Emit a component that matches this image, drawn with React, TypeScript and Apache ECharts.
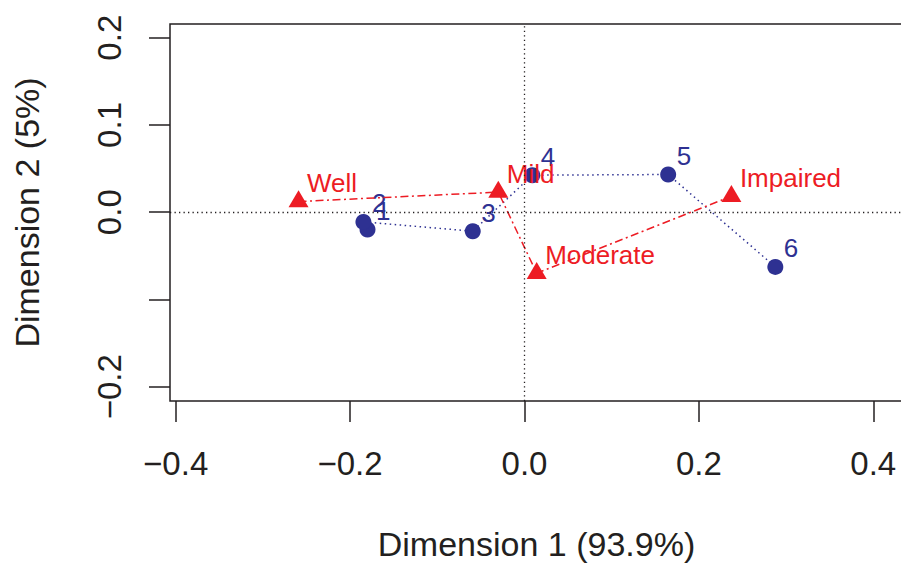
import React, { useEffect, useRef } from "react";
import * as echarts from "echarts";

const rowNames = ["1", "2", "3", "4", "5", "6"];
const rowX = [-0.18, -0.1847, -0.0593, 0.009, 0.1648, 0.2877];
const rowY = [-0.0198, -0.0111, -0.0218, 0.0424, 0.0432, -0.0627];

const colNames = ["Well", "Mild", "Moderate", "Impaired"];
const colX = [-0.2591, -0.03, 0.014, 0.2373];
const colY = [0.0122, 0.023, -0.0699, 0.0183];

const xTicks = [-0.4, -0.2, 0, 0.2, 0.4];
const yTicks = [-0.2, -0.1, 0, 0.1, 0.2];
const yTickLabels = [-0.2, 0, 0.1, 0.2];

const xTitle = "Dimension 1 (93.9%)";
const yTitle = "Dimension 2 (5%)";

const BLUE = "#2E3192";
const RED = "#ED1C24";
const INK = "#231F20";
const FONT = "'Liberation Sans', Arial, Helvetica, sans-serif";

const fmt = (v: number) => {
  const s = Math.abs(v).toFixed(1);
  return v < -1e-9 ? "\u2212" + s : s;
};

export default function App() {
  const ref = useRef<HTMLDivElement>(null);
  useEffect(() => {
    if (!ref.current) return;
    const chart = echarts.init(ref.current, null, { renderer: "svg" });
    const rows = rowNames.map((n, i) => ({ name: n, value: [rowX[i], rowY[i]] }));
    const cols = colNames.map((n, i) => ({ name: n, value: [colX[i], colY[i]] }));
    chart.setOption({
      animation: false,
      backgroundColor: "#ffffff",
      textStyle: { fontFamily: FONT },
      grid: {
        left: 170,
        top: 24,
        right: -2,
        bottom: 162,
        show: true,
        borderColor: INK,
        borderWidth: 1.5,
        backgroundColor: "transparent",
        containLabel: false,
        outerBoundsMode: "none",
      },
      xAxis: {
        type: "value",
        min: -0.4065,
        max: 0.4341,
        splitLine: { show: false },
        axisLine: { show: false, onZero: false },
        axisTick: {
          show: true,
          inside: false,
          length: 21,
          customValues: xTicks,
          lineStyle: { color: INK, width: 1.5 },
        },
        axisLabel: {
          show: true,
          customValues: xTicks,
          formatter: (v: number) => fmt(v),
          margin: 46,
          fontSize: 33,
          color: INK,
          fontFamily: FONT,
        },
        name: xTitle,
        nameLocation: "middle",
        nameGap: 126,
        nameTextStyle: { fontSize: 34, color: INK, fontFamily: FONT },
      },
      yAxis: {
        type: "value",
        min: -0.2164,
        max: 0.2157,
        splitLine: { show: false },
        axisLine: { show: false, onZero: false },
        axisTick: {
          show: true,
          inside: false,
          length: 21,
          customValues: yTicks,
          lineStyle: { color: INK, width: 1.5 },
        },
        axisLabel: {
          show: true,
          customValues: yTickLabels,
          formatter: (v: number) => fmt(v),
          rotate: 90,
          margin: 44,
          fontSize: 33,
          color: INK,
          fontFamily: FONT,
        },
        name: yTitle,
        nameLocation: "middle",
        nameGap: 126,
        nameTextStyle: { fontSize: 34, color: INK, fontFamily: FONT },
      },
      series: [
        {
          type: "line",
          data: rows,
          symbol: "circle",
          symbolSize: 16,
          itemStyle: { color: BLUE },
          lineStyle: { color: BLUE, width: 1.5, type: [1.5, 3.5] },
          emphasis: { disabled: true },
          label: {
            show: true,
            formatter: "{b}",
            position: "right",
            distance: 0,
            offset: [0.5, -18.5],
            color: BLUE,
            fontSize: 26,
            fontFamily: FONT,
          },
          markLine: {
            silent: true,
            symbol: "none",
            animation: false,
            label: { show: false },
            emphasis: { disabled: true },
            lineStyle: { color: INK, width: 1.3, type: [1.3, 3.2] },
            data: [{ xAxis: 0 }, { yAxis: 0 }],
          },
          z: 2,
        },
        {
          type: "line",
          data: cols,
          symbol: "triangle",
          symbolSize: [20, 17],
          symbolOffset: [0, -2.8],
          itemStyle: { color: RED },
          lineStyle: { color: RED, width: 1.5, type: [8, 3.5, 2, 3.5] },
          emphasis: { disabled: true },
          label: {
            show: true,
            formatter: "{b}",
            position: "right",
            distance: 0,
            offset: [-1.5, -15.7],
            color: RED,
            fontSize: 26,
            fontFamily: FONT,
          },
          z: 3,
        },
      ],
    });
    return () => chart.dispose();
  }, []);
  return (
    <div
      ref={ref}
      style={{ position: "fixed", left: 0, top: 0, width: 901, height: 563, background: "#fff" }}
    />
  );
}
